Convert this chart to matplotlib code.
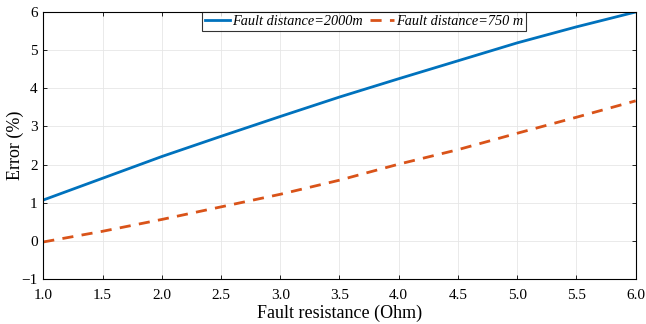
import matplotlib

matplotlib.use("Agg")
import matplotlib.pyplot as plt

# 故障抵抗 [Ohm]
resistance = [1.0, 1.5, 2.0, 2.5, 3.0, 3.5, 4.0, 4.5, 5.0, 5.5, 6.0]
# 誤差 [%]
err_2000m = [1.07, 1.64, 2.21, 2.74, 3.26, 3.77, 4.25, 4.72, 5.19, 5.61, 6.0]
err_750m = [-0.03, 0.25, 0.56, 0.89, 1.22, 1.59, 2.01, 2.39, 2.82, 3.24, 3.67]
labels = ["Fault distance=2000m", "Fault distance=750 m"]

plt.rcParams["font.family"] = ["Liberation Serif", "DejaVu Serif"]

fig, ax = plt.subplots(figsize=(6.46, 3.24), dpi=100)
fig.subplots_adjust(left=0.067, right=0.984, top=0.963, bottom=0.139)

ax.plot(resistance, err_2000m, color="#0072BD", lw=2.0, label=labels[0])
ax.plot(resistance, err_750m, color="#D95319", lw=2.0, ls=(0, (4, 3)), label=labels[1])

ax.set_xlim(1.0, 6.0)
ax.set_ylim(-1, 6)
ax.set_xticks([1.0, 1.5, 2.0, 2.5, 3.0, 3.5, 4.0, 4.5, 5.0, 5.5, 6.0])
ax.set_xticklabels([f"{v:.1f}" for v in ax.get_xticks()])
ax.set_yticks(range(-1, 7))
ax.tick_params(direction="in", top=True, right=True, labelsize=11, length=3, width=0.6)
ax.tick_params(axis="x", pad=7)
ax.tick_params(axis="y", pad=4)
ax.grid(True, color="#e6e6e6", lw=0.6)
for sp in ax.spines.values():
    sp.set_linewidth(0.8)

ax.set_xlabel("Fault resistance (Ohm)", fontsize=13, labelpad=2)
ax.set_ylabel("Error (%)", fontsize=13, labelpad=-2)

leg = ax.legend(
    loc="upper center",
    bbox_to_anchor=(0.542, 1.0),
    ncol=2,
    prop={"style": "italic", "size": 10.3},
    frameon=True,
    fancybox=False,
    edgecolor="black",
    handlelength=1.7,
    handletextpad=0.15,
    columnspacing=0.5,
    borderpad=0.22,
    borderaxespad=0.0,
)
leg.get_frame().set_linewidth(0.8)

fig.savefig("out.png", dpi=100)
plt.close(fig)
